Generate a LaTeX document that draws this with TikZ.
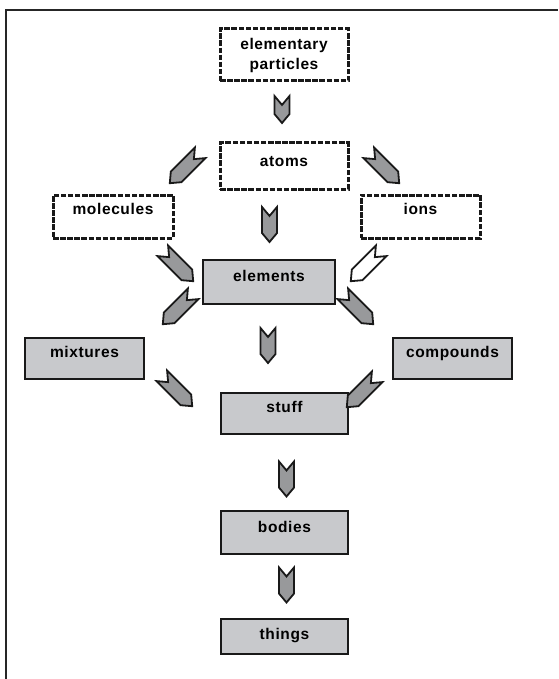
\documentclass[tikz,border=0pt]{standalone}
\usepackage{fontspec}
\setmainfont{Liberation Sans}[LetterSpace=4]
\usetikzlibrary{shapes.symbols}
\definecolor{boxgray}{RGB}{200,201,204}
\definecolor{arrowgray}{RGB}{152,153,155}
\tikzset{
  lbl/.style={font=\bfseries\fontsize{15.5}{20}\selectfont},
  tb/.style 2 args={text height=#1, text depth=#2},
  solidbox/.style={lbl, draw=black!90, line width=2pt, fill=boxgray,
    inner sep=0pt, minimum width=#1},
  dashbox/.style={lbl, draw=black!90, line width=3pt,
    dash pattern=on 5.5pt off 1.6pt, inner sep=0pt, minimum width=#1},
  chev/.style={shape=signal, signal to=east, signal from=west,
    signal pointer angle=80, draw=black!90, line width=1.8pt, fill=arrowgray,
    minimum width=35pt, minimum height=15pt, inner sep=0pt},
  slant/.style={chev, minimum width=43pt},
}
\begin{document}
\begin{tikzpicture}[x=1pt,y=-1pt]
  \useasboundingbox (0,0) rectangle (558,679);
  % frame
  \draw[line width=1.4pt, black!85] (6,679) -- (6,10) -- (558,10);
  % dashed boxes
  \node[dashbox=128pt, minimum height=52pt, align=center] (part) at (284,55)
    {elementary\\particles};
  \node[dashbox=128pt, tb={24pt}{22pt}] (atoms) at (284,166) {atoms};
  \node[dashbox=120pt, tb={19pt}{24pt}] (mol) at (113,216.5) {molecules};
  \node[dashbox=119pt, tb={19pt}{24pt}] (ions) at (420.5,216.5) {ions};
  % grey boxes
  \node[solidbox=132pt, tb={21.5pt}{22.5pt}] (elem) at (269,282) {elements};
  \node[solidbox=119pt, tb={19pt}{22pt}] (mix) at (84.5,358.5) {mixtures};
  \node[solidbox=119pt, tb={19pt}{22pt}] (comp) at (452.5,358.5) {compounds};
  \node[solidbox=127pt, tb={19pt}{22pt}] (stuff) at (284.5,413.5) {stuff};
  \node[solidbox=127pt, tb={21pt}{22pt}] (bodies) at (284.5,532.5) {bodies};
  \node[solidbox=127pt, tb={20pt}{15pt}] (things) at (284.5,636.5) {things};
  % straight down
  \node[chev, rotate=-90, minimum width=27pt] (v0) at (282,109.5) {};
  \foreach \xx/\yy [count=\i] in {269.5/224.5, 268/345.5, 286.5/479, 286.5/585}
    \node[chev, rotate=-90] (v\i) at (\xx,\yy) {};
  % slanted
  \node[slant, rotate=-135] (d1) at (185,168) {};
  \node[slant, rotate=-45] (d2) at (384,168) {};
  \node[slant, rotate=-45] (d3) at (178,266) {};
  \node[slant, rotate=-135, fill=white] (d4) at (366,266) {};
  \node[slant, rotate=-135] (d5) at (178,309) {};
  \node[slant, rotate=-45] (d6) at (358,309) {};
  \node[slant, rotate=-45] (d7) at (177,391) {};
  \node[slant, rotate=-135] (d8) at (362,392) {};
\end{tikzpicture}
\end{document}
